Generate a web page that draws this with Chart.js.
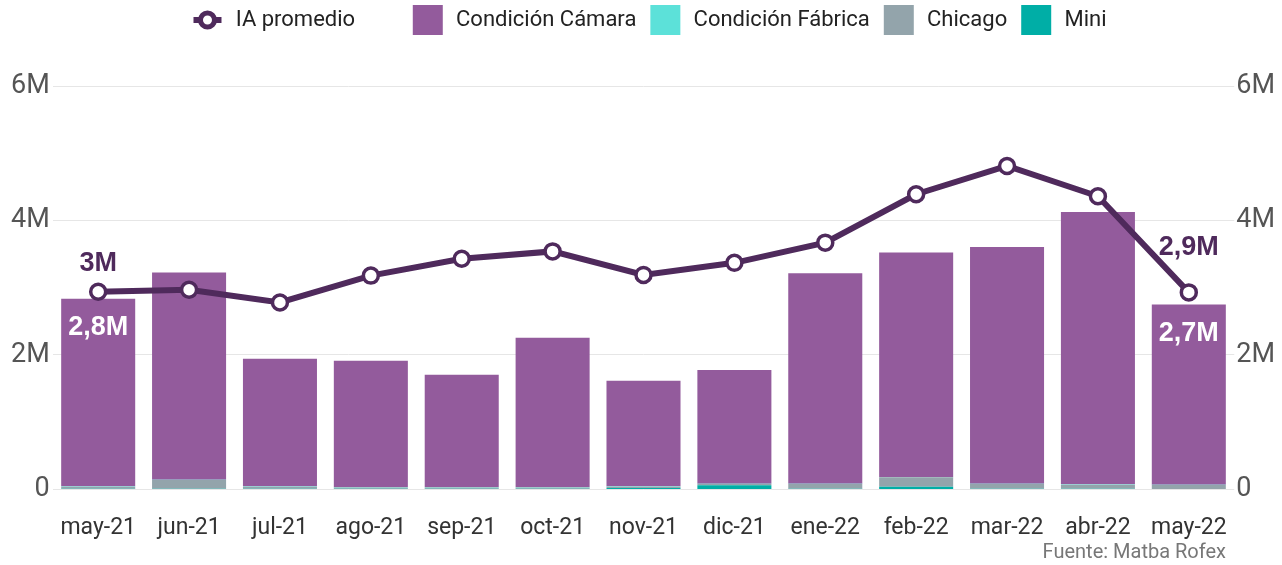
<!DOCTYPE html>
<html>
<head>
<meta charset="utf-8">
<script src="https://cdn.jsdelivr.net/npm/chart.js@4.4.1/dist/chart.umd.min.js"></script>
<style>
  body { margin: 0; background: #fff; }
  #wrap { position: relative; width: 1282px; height: 565px; }
</style>
</head>
<body>
<div id="wrap"><canvas id="chart"></canvas></div>
<script>
// values in millions
const months = ['may-21', 'jun-21', 'jul-21', 'ago-21', 'sep-21', 'oct-21', 'nov-21', 'dic-21', 'ene-22', 'feb-22', 'mar-22', 'abr-22', 'may-22'];
const iaPromedio = [2.94, 2.97, 2.78, 3.18, 3.43, 3.54, 3.19, 3.37, 3.67, 4.39, 4.81, 4.36, 2.93];
const camara = [2.79, 3.08, 1.90, 1.88, 1.67, 2.22, 1.57, 1.69, 3.13, 3.34, 3.52, 4.05, 2.68];
const fabrica = [0.005, 0.005, 0.005, 0.005, 0.005, 0.005, 0.005, 0.005, 0.005, 0.005, 0.005, 0.005, 0.005];
const chicago = [0.03, 0.13, 0.03, 0.02, 0.02, 0.02, 0.02, 0.02, 0.07, 0.14, 0.07, 0.06, 0.06];
const mini = [0.01, 0.01, 0.01, 0.01, 0.01, 0.01, 0.02, 0.06, 0.01, 0.04, 0.01, 0.01, 0.005];
const yTicks = [0, 2, 4, 6];
// labels shown on the first and last month
const lineLabels = ['3M', '2,9M'];
const barLabels = ['2,8M', '2,7M'];

const lineColor = '#4f2a5c';
const purple = '#935b9c';

const labelsPlugin = {
    id: 'labelsPlugin',
    afterDatasetsDraw: function (chart) {
        const { ctx, scales: { x, y } } = chart;
        ctx.save();
        ctx.font = 'bold 27px "Liberation Sans", Arial, sans-serif';
        ctx.textAlign = 'center';
        ctx.textBaseline = 'middle';
        const last = months.length - 1;
        [0, last].forEach((i, k) => {
            const cx = x.getPixelForValue(i);
            const total = camara[i] + fabrica[i] + chicago[i] + mini[i];
            ctx.fillStyle = '#fff';
            ctx.fillText(barLabels[k], cx, y.getPixelForValue(total) + 29);
            ctx.fillStyle = lineColor;
            const py = y.getPixelForValue(iaPromedio[i]);
            ctx.fillText(lineLabels[k], cx, py - (k === 0 ? 28 : 45));
        });
        ctx.restore();
    }
};

const legendShift = 7;

const legendPlugin = {
    id: 'legendPlugin',
    beforeInit: function (chart) {
        const origFit = chart.legend.fit;
        chart.legend.fit = function () {
            origFit.bind(chart.legend)();
            this.height = 86;
        };
    },
    afterLayout: function (chart) {
        // pull the legend row up, the plot keeps its place
        chart.legend.top -= 9;
        chart.legend.left += legendShift;
        chart.legend.right += legendShift;
    },
    afterDraw: function (chart) {
        const box = chart.legend.legendHitBoxes[0];
        if (!box) return;
        const { ctx } = chart;
        const cx = box.left + legendShift + 8;
        const cy = chart.legend.top + 14 + 15;
        ctx.save();
        ctx.strokeStyle = lineColor;
        ctx.lineWidth = 6;
        ctx.beginPath();
        ctx.moveTo(cx - 14, cy);
        ctx.lineTo(cx + 14, cy);
        ctx.stroke();
        ctx.beginPath();
        ctx.arc(cx, cy, 7, 0, Math.PI * 2);
        ctx.fillStyle = '#fff';
        ctx.fill();
        ctx.lineWidth = 5;
        ctx.stroke();
        ctx.restore();
    }
};

const footerPlugin = {
    id: 'footerPlugin',
    afterDraw: function (chart) {
        const { ctx } = chart;
        ctx.save();
        ctx.font = '20px Roboto';
        ctx.fillStyle = '#777';
        ctx.textAlign = 'right';
        ctx.textBaseline = 'middle';
        ctx.fillText('Fuente: Matba Rofex', 1226, 553);
        ctx.restore();
    }
};

const tickCb = function (value) {
    return value === 0 ? '0' : value + 'M';
};

new Chart(document.getElementById('chart'), {
    data: {
        labels: months,
        datasets: [
            {
                type: 'line',
                label: 'IA promedio',
                data: iaPromedio,
                borderColor: lineColor,
                borderWidth: 6,
                pointRadius: 7.5,
                pointBorderWidth: 3.5,
                pointBackgroundColor: '#fff',
                pointBorderColor: lineColor,
                order: 0
            },
            { type: 'bar', label: 'Condición Cámara', data: camara, backgroundColor: purple, order: 4, stack: 's' },
            { type: 'bar', label: 'Condición Fábrica', data: fabrica, backgroundColor: '#5ce1d9', order: 3, stack: 's' },
            { type: 'bar', label: 'Chicago', data: chicago, backgroundColor: '#93a4ab', order: 2, stack: 's' },
            { type: 'bar', label: 'Mini', data: mini, backgroundColor: '#00aea6', order: 1, stack: 's' }
        ]
    },
    options: {
        responsive: true,
        maintainAspectRatio: false,
        animation: false,
        datasets: { bar: { categoryPercentage: 0.9, barPercentage: 0.905 } },
        layout: { padding: { top: 0, bottom: 6, left: 8, right: 5 } },
        plugins: {
            legend: {
                position: 'top',
                labels: {
                    boxHeight: 30,
                    boxWidth: 30,
                    padding: 14,
                    color: '#222',
                    font: { family: 'Roboto', size: 22 },
                    generateLabels: function (chart) {
                        return chart.data.datasets.map((ds, i) => ({
                            text: ds.type === 'line' ? '\u200A' + ds.label + '        ' : '\u200A' + ds.label,
                            fillStyle: ds.type === 'line' ? 'rgba(0,0,0,0)' : ds.backgroundColor,
                            strokeStyle: 'rgba(0,0,0,0)',
                            lineWidth: 0,
                            fontColor: '#222',
                            datasetIndex: i,
                            hidden: false
                        }));
                    }
                }
            },
            tooltip: { enabled: false }
        },
        scales: {
            x: {
                stacked: true,
                grid: { display: false },
                border: { display: false },
                ticks: { color: '#333', font: { family: 'Roboto', size: 23 }, padding: 17 }
            },
            y: {
                stacked: true,
                min: 0,
                max: 6,
                position: 'left',
                afterBuildTicks: axis => { axis.ticks = yTicks.map(v => ({ value: v })); },
                grid: { color: '#e6e6e6', drawTicks: false },
                border: { display: false },
                ticks: { color: '#555', font: { family: 'Roboto', size: 27 }, callback: tickCb, padding: 3 }
            },
            y2: {
                min: 0,
                max: 6,
                position: 'right',
                afterBuildTicks: axis => { axis.ticks = yTicks.map(v => ({ value: v })); },
                grid: { display: false, drawTicks: false },
                border: { display: false },
                ticks: { color: '#555', font: { family: 'Roboto', size: 27 }, callback: tickCb, padding: 2 }
            }
        }
    },
    plugins: [labelsPlugin, legendPlugin, footerPlugin]
});
</script>
</body>
</html>
